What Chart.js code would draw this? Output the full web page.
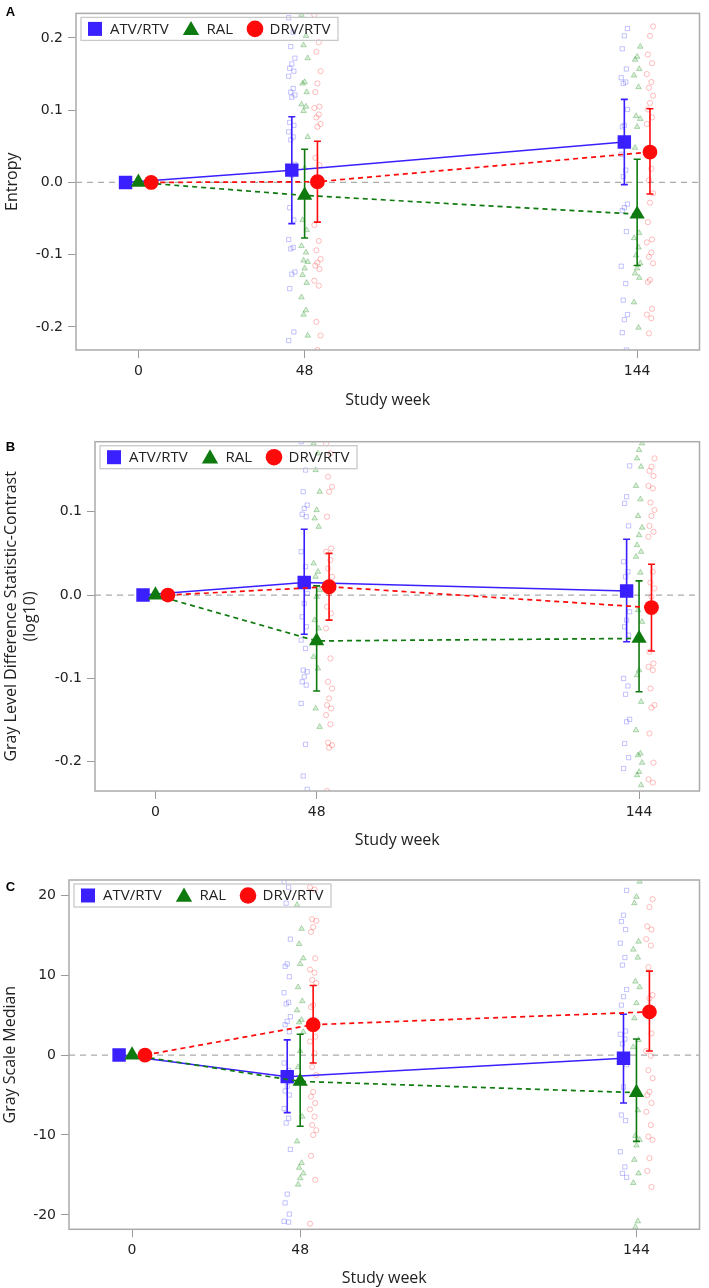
<!DOCTYPE html>
<html lang="en">
<head>
<meta charset="UTF-8">
<title>Texture change by study week</title>
<script src="https://cdn.jsdelivr.net/npm/chart.js"></script>
<style>
  body { margin: 0; background: #fff; }
  canvas { position: absolute; left: 0; }
</style>
</head>
<body>
<canvas id="chartA" width="709" height="415" style="top:0px"></canvas>
<canvas id="chartB" width="709" height="431" style="top:425px"></canvas>
<canvas id="chartC" width="709" height="426" style="top:862px"></canvas>

<script>
// ---- data ----
const weeks = [0, 48, 144];
const groupNames = ['ATV/RTV', 'RAL', 'DRV/RTV'];

// A: Entropy. rows = ATV/RTV, RAL, DRV/RTV ; columns = weeks
const entropyMean = [[0, 0.017, 0.056], [0, -0.018, -0.044], [0, 0.001, 0.042]];
const entropyLow  = [[null, -0.057, -0.003], [null, -0.077, -0.115], [null, -0.055, -0.016]];
const entropyHigh = [[null, 0.091, 0.115], [null, 0.046, 0.032], [null, 0.057, 0.102]];
const entropyWk48 = [
  [0.228, 0.208, 0.188, 0.172, 0.164, 0.158, 0.154, 0.147, 0.130, 0.125, 0.121, 0.118, 0.083, 0.079, 0.070, 0.063, 0.059, 0.025, 0.010, -0.035, -0.052, -0.079, -0.090, -0.092, -0.124, -0.127, -0.147, -0.207, -0.219],
  [0.232, 0.203, 0.190, 0.172, 0.139, 0.137, 0.125, 0.108, 0.105, 0.099, 0.063, 0.020, -0.052, -0.066, -0.088, -0.097, -0.108, -0.110, -0.119, -0.128, -0.139, -0.159, -0.177, -0.183, -0.212],
  [0.232, 0.194, 0.181, 0.154, 0.137, 0.125, 0.105, 0.103, 0.094, 0.090, 0.081, 0.077, 0.034, 0.024, -0.059, -0.081, -0.094, -0.106, -0.111, -0.115, -0.120, -0.136, -0.143, -0.193, -0.212, -0.232]
];
const entropyWk144 = [
  [0.213, 0.203, 0.185, 0.157, 0.145, 0.139, 0.137, 0.101, 0.079, 0.077, 0.057, 0.039, 0.017, 0.008, -0.030, -0.035, -0.039, -0.068, -0.116, -0.140, -0.163, -0.183, -0.190, -0.208, -0.232],
  [0.188, 0.174, 0.170, 0.157, 0.148, 0.132, 0.092, 0.088, 0.077, 0.048, -0.070, -0.077, -0.090, -0.101, -0.112, -0.119, -0.126, -0.132, -0.166, -0.201],
  [0.216, 0.203, 0.177, 0.165, 0.150, 0.139, 0.131, 0.120, 0.110, 0.101, 0.090, 0.081, 0.019, 0.003, -0.015, -0.028, -0.055, -0.079, -0.083, -0.097, -0.103, -0.112, -0.135, -0.138, -0.175, -0.183, -0.188, -0.209]
];
const entropyTicks = [-0.2, -0.1, 0, 0.1, 0.2];

// B: Gray level difference statistic - contrast (log10)
const contrastMean = [[0, 0.015, 0.005], [0, -0.055, -0.052], [0, 0.010, -0.015]];
const contrastLow  = [[null, -0.047, -0.056], [null, -0.115, -0.116], [null, -0.030, -0.067]];
const contrastHigh = [[null, 0.079, 0.067], [null, 0.011, 0.017], [null, 0.050, 0.037]];
const contrastWk48 = [
  [0.184, 0.150, 0.124, 0.108, 0.104, 0.097, 0.094, 0.052, 0.034, 0.018, 0.002, -0.010, -0.026, -0.038, -0.054, -0.064, -0.090, -0.092, -0.098, -0.104, -0.108, -0.130, -0.179, -0.217, -0.233],
  [0.182, 0.170, 0.150, 0.124, 0.102, 0.092, 0.082, 0.038, 0.028, 0.022, 0.006, -0.002, -0.030, -0.040, -0.074, -0.088, -0.136, -0.158],
  [0.182, 0.170, 0.142, 0.130, 0.124, 0.094, 0.056, 0.052, 0.042, 0.032, 0.022, 0.002, -0.014, -0.022, -0.040, -0.076, -0.104, -0.112, -0.124, -0.132, -0.136, -0.144, -0.155, -0.177, -0.180, -0.183, -0.235]
];
const contrastWk144 = [
  [0.155, 0.118, 0.110, 0.083, 0.040, 0.028, 0.022, -0.020, -0.030, -0.038, -0.048, -0.100, -0.109, -0.119, -0.149, -0.152, -0.178, -0.195, -0.208],
  [0.182, 0.174, 0.164, 0.154, 0.131, 0.115, 0.095, 0.081, 0.072, 0.060, 0.052, 0.046, 0.027, -0.018, -0.032, -0.090, -0.096, -0.128, -0.162, -0.190, -0.192, -0.201, -0.212, -0.216, -0.228],
  [0.164, 0.154, 0.149, 0.143, 0.131, 0.128, 0.111, 0.102, 0.095, 0.083, 0.076, 0.070, 0.028, 0.015, 0.008, -0.002, -0.068, -0.082, -0.086, -0.090, -0.112, -0.132, -0.135, -0.166, -0.201, -0.221, -0.225]
];
const contrastTicks = [-0.2, -0.1, 0, 0.1];

// C: Gray scale median
const medianMean = [[0, -2.7, -0.4], [0, -3.3, -4.7], [0, 3.8, 5.4]];
const medianLow  = [[null, -7.2, -6.0], [null, -8.9, -10.8], [null, -1.0, 0.5]];
const medianHigh = [[null, 1.9, 5.1], [null, 2.6, 2.0], [null, 8.7, 10.5]];
const medianWk48 = [
  [21.7, 21.0, 19.0, 14.5, 11.4, 11.1, 9.8, 7.8, 6.6, 6.4, 4.8, 4.2, 3.8, 2.9, -1.0, -1.9, -2.5, -3.3, -3.9, -4.5, -5.0, -6.7, -7.9, -8.5, -11.8, -17.4, -18.5, -19.9, -20.8, -20.9],
  [18.8, 15.8, 13.9, 12.1, 11.4, 8.5, 6.75, 5.6, 4.4, 4.1, 2.9, 0.5, -1.5, -7.7, -10.8, -13.5, -14.1, -14.8, -15.4, -16.2],
  [21.0, 20.7, 17.0, 16.8, 16.0, 15.4, 12.1, 10.7, 10.3, 9.4, 9.0, 6.25, 6.0, 2.3, 1.7, 0.2, -1.5, -2.5, -4.6, -5.2, -6.0, -6.8, -7.7, -8.75, -9.4, -10.0, -12.6, -15.6, -21.1]
];
const medianWk144 = [
  [20.6, 17.5, 16.7, 15.7, 14.0, 12.2, 11.25, 8.2, 7.3, 6.25, 3.0, 2.6, 2.0, 1.4, -1.2, -4.0, -7.5, -8.2, -12.1, -14.0, -14.8, -15.3],
  [21.7, 19.8, 19.0, 14.2, 13.2, 12.2, 9.2, 8.5, 6.5, 4.6, 1.9, 1.0, -6.9, -10.1, -10.6, -11.3, -13.1, -14.8, -16.0, -20.8, -21.5],
  [19.5, 18.5, 16.1, 15.7, 14.5, 13.7, 11.0, 7.5, 7.1, 5.8, 2.7, 0.5, -0.1, -1.9, -2.9, -4.6, -5.0, -6.0, -7.1, -8.75, -10.2, -10.6, -12.9, -14.5, -16.5]
];
const medianTicks = [-20, -10, 0, 10, 20];

// ---- styling ----
const groupColors = ['#3a1fff', '#0f7a0f', '#ff0a0a'];
const faintColors = ['rgba(60,60,255,0.3)', 'rgba(20,140,20,0.3)', 'rgba(255,40,40,0.3)'];
const faintFill = ['rgba(0,0,0,0)', 'rgba(20,140,20,0.16)', 'rgba(0,0,0,0)'];
const groupShapes = ['rect', 'triangle', 'circle'];
const meanRadius = [9.5, 8.8, 7.4];
const dotRadius = [3, 3.2, 2.6];
const groupDash = [[], [5, 4], [5, 4]];
const groupShift = [-3.7, 0, 3.7];          // cluster offset in weeks
const jitter = [-0.9, 0.4, -0.3, 0.9, 0, -0.6, 0.6];

Chart.defaults.font.family = "'Open Sans', sans-serif";
Chart.defaults.color = '#222';

function drawShape(ctx, shape, x, y, r) {
  ctx.beginPath();
  if (shape === 'rect') {
    const s = r * Math.SQRT1_2;
    ctx.rect(x - s, y - s, 2 * s, 2 * s);
  } else if (shape === 'triangle') {
    ctx.moveTo(x, y - r);
    ctx.lineTo(x + r * Math.sin(2 * Math.PI / 3), y + r / 2);
    ctx.lineTo(x - r * Math.sin(2 * Math.PI / 3), y + r / 2);
    ctx.closePath();
  } else {
    ctx.arc(x, y, r, 0, Math.PI * 2);
  }
  ctx.fill();
}

// frame, zero line, error bars, legend box, panel letter
const panelDecor = {
  id: 'panelDecor',
  beforeDatasetsDraw(chart) {
    const {ctx, chartArea: a, scales: {y}} = chart;
    const y0 = y.getPixelForValue(0);
    ctx.save();
    ctx.strokeStyle = '#ababab';
    ctx.lineWidth = 1.3;
    ctx.setLineDash([6, 5]);
    ctx.beginPath();
    ctx.moveTo(a.left, y0);
    ctx.lineTo(a.right, y0);
    ctx.stroke();
    ctx.restore();
  },
  afterDatasetDraw(chart, args) {
    const ds = chart.data.datasets[args.index];
    if (!ds.errLow) return;
    const {ctx, scales: {x, y}} = chart;
    ctx.save();
    ctx.strokeStyle = ds.borderColor;
    ctx.lineWidth = 1.6;
    ds.data.forEach((p, i) => {
      if (ds.errLow[i] == null) return;
      const px = x.getPixelForValue(p.x);
      const lo = y.getPixelForValue(ds.errLow[i]);
      const hi = y.getPixelForValue(ds.errHigh[i]);
      ctx.beginPath();
      ctx.moveTo(px, lo); ctx.lineTo(px, hi);
      ctx.moveTo(px - 3.5, lo); ctx.lineTo(px + 3.5, lo);
      ctx.moveTo(px - 3.5, hi); ctx.lineTo(px + 3.5, hi);
      ctx.stroke();
    });
    ctx.restore();
  },
  afterDraw(chart, args, opts) {
    const {ctx, chartArea: a} = chart;
    ctx.save();
    ctx.strokeStyle = '#ababab';
    ctx.lineWidth = 1.5;
    ctx.strokeRect(a.left, a.top, a.right - a.left, a.bottom - a.top);

    // legend
    const bx = a.left + 5, by = a.top + 4, bw = 257, bh = 23;
    ctx.strokeStyle = '#c9c9c9';
    ctx.lineWidth = 1.3;
    ctx.strokeRect(bx, by, bw, bh);
    const cy = by + bh / 2;
    const markX = [14, 110, 174];
    const textX = [29, 125.5, 188.5];
    const legR = [9.9, 9.4, 8.3];
    ctx.font = "15px 'Open Sans', sans-serif";
    ctx.textBaseline = 'middle';
    groupNames.forEach((name, g) => {
      ctx.fillStyle = groupColors[g];
      drawShape(ctx, groupShapes[g], bx + markX[g], cy + (g === 1 ? 1.5 : 0), legR[g]);
      ctx.fillStyle = '#222';
      ctx.fillText(name, bx + textX[g], cy + 0.5);
    });

    // panel letter
    ctx.font = "bold 13px 'Liberation Sans', sans-serif";
    ctx.fillStyle = '#000';
    ctx.textAlign = 'center';
    ctx.fillText(opts.letter, 10.5, opts.letterY);
    ctx.restore();
  }
};

function makePanel(p) {
  const datasets = [];
  groupNames.forEach((name, g) => {
    const dots = [];
    p.wk48[g].forEach((v, i) => dots.push({x: 48 + groupShift[g] + jitter[i % jitter.length], y: v}));
    p.wk144[g].forEach((v, i) => dots.push({x: 144 + groupShift[g] + jitter[(i + 3) % jitter.length], y: v}));
    datasets.push({
      label: name + ' subjects',
      data: dots,
      pointStyle: groupShapes[g],
      pointRadius: dotRadius[g],
      pointBorderWidth: 1,
      borderColor: faintColors[g],
      backgroundColor: faintFill[g],
      order: 10
    });
  });
  groupNames.forEach((name, g) => {
    datasets.push({
      label: name,
      data: weeks.map((w, i) => ({x: w + groupShift[g], y: p.mean[g][i]})),
      errLow: p.low[g],
      errHigh: p.high[g],
      showLine: true,
      borderColor: groupColors[g],
      backgroundColor: groupColors[g],
      borderWidth: g === 0 ? 1.5 : 1.7,
      borderDash: groupDash[g],
      pointStyle: groupShapes[g],
      pointRadius: meanRadius[g],
      pointBorderWidth: 0,
      pointBackgroundColor: groupColors[g],
      order: 3 - g
    });
  });

  new Chart(document.getElementById(p.id), {
    type: 'scatter',
    data: {datasets},
    options: {
      responsive: false,
      animation: false,
      events: [],
      layout: {padding: {top: p.padTop, right: p.padRight, bottom: 0, left: 0}},
      plugins: {
        legend: {display: false},
        tooltip: {enabled: false},
        panelDecor: {letter: p.letter, letterY: p.letterY}
      },
      scales: {
        x: {
          type: 'linear',
          min: -18,
          max: 162,
          afterBuildTicks: s => { s.ticks = weeks.map(v => ({value: v})); },
          afterFit: s => { s.height = p.xHeight; },
          ticks: {
            font: {family: "'DejaVu Sans', sans-serif", size: 14},
            color: '#222',
            padding: 5,
            callback: v => String(v)
          },
          grid: {drawOnChartArea: false, tickLength: 8, color: '#9a9a9a'},
          border: {display: false},
          title: {
            display: true,
            text: 'Study week',
            font: {size: 16},
            color: '#222',
            padding: {top: 0, bottom: p.xTitlePad}
          }
        },
        y: {
          min: p.yMin,
          max: p.yMax,
          afterBuildTicks: s => { s.ticks = p.ticks.map(v => ({value: v})); },
          afterFit: s => { s.width = p.yWidth; },
          ticks: {
            font: {family: "'DejaVu Sans', sans-serif", size: 14},
            color: '#222',
            padding: 5,
            callback: v => Number(v).toFixed(p.decimals)
          },
          grid: {drawOnChartArea: false, tickLength: 8, color: '#9a9a9a'},
          border: {display: false},
          title: {
            display: true,
            text: p.yTitle,
            font: {size: 16},
            color: '#222',
            padding: {top: p.yTitlePad, bottom: 0}
          }
        }
      }
    },
    plugins: [panelDecor]
  });
}

makePanel({
  id: 'chartA', letter: 'A', letterY: 12.5,
  mean: entropyMean, low: entropyLow, high: entropyHigh,
  wk48: entropyWk48, wk144: entropyWk144,
  yMin: -0.232, yMax: 0.234, ticks: entropyTicks, decimals: 1,
  yTitle: 'Entropy',
  yWidth: 76, xHeight: 65, padTop: 1, padRight: 4, xTitlePad: 5, yTitlePad: 3
});

makePanel({
  id: 'chartB', letter: 'B', letterY: 22.5,
  mean: contrastMean, low: contrastLow, high: contrastHigh,
  wk48: contrastWk48, wk144: contrastWk144,
  yMin: -0.235, yMax: 0.184, ticks: contrastTicks, decimals: 1,
  yTitle: ['Gray Level Difference Statistic-Contrast', '(log10)'],
  yWidth: 95, xHeight: 65, padTop: 16.7, padRight: 2, xTitlePad: 6.4, yTitlePad: 1.4
});

makePanel({
  id: 'chartC', letter: 'C', letterY: 25,
  mean: medianMean, low: medianLow, high: medianHigh,
  wk48: medianWk48, wk144: medianWk144,
  yMin: -21.8, yMax: 21.9, ticks: medianTicks, decimals: 0,
  yTitle: 'Gray Scale Median',
  yWidth: 69, xHeight: 58.7, padTop: 18, padRight: 4, xTitlePad: 0, yTitlePad: 0.5
});
</script>
</body>
</html>
